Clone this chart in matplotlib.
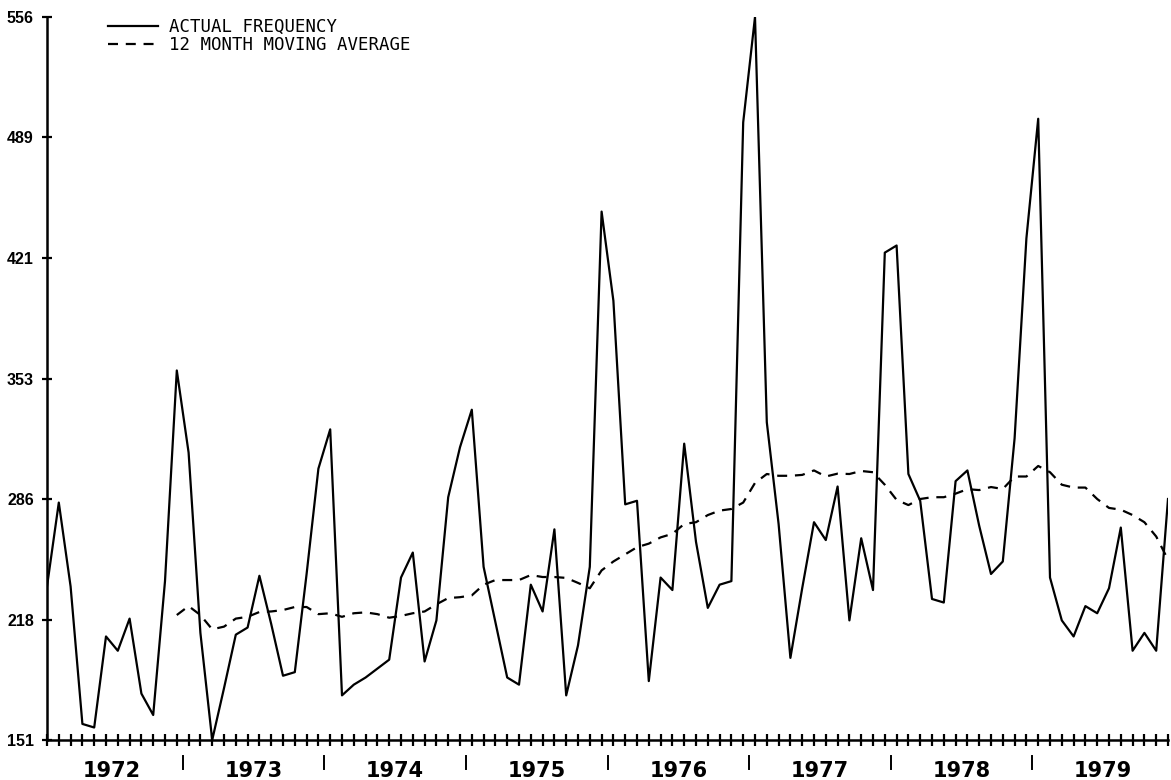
import numpy as np
import matplotlib
matplotlib.use("Agg")
import matplotlib.pyplot as plt
import matplotlib.transforms as mtransforms

# monthly frequency, Jan 1972 .. Dec 1979
actual = [237, 284, 237, 160, 158, 209, 201, 219, 177, 165, 240, 358,
          312, 211, 151, 180, 210, 214, 243, 216, 187, 189, 244, 303,
          325, 176, 182, 186, 191, 196, 242, 256, 195, 218, 287, 315,
          336, 248, 217, 186, 182, 238, 223, 269, 176, 204, 248, 447,
          397, 283, 285, 184, 242, 235, 317, 262, 225, 238, 240, 497,
          556, 329, 272, 197, 236, 273, 263, 293, 218, 264, 235, 424,
          428, 300, 285, 230, 228, 296, 302, 271, 244, 251, 320, 432,
          499, 242, 218, 209, 226, 222, 236, 270, 201, 211, 201, 286]

# 12 month moving average, starts at month 12 (Dec 1972)
ma_start = 11
moving_avg = [221, 226, 221, 213, 214.5, 219, 220, 222.7, 223, 223.8, 225.5, 225.5,
              221.5, 222, 220, 222, 222.5, 221.5, 219.5, 220.5, 222, 223, 227, 230.5,
              231, 232, 238, 240.6, 240.6, 240.6, 243.4, 242.3, 242.3, 241.8, 239, 236,
              246, 251, 255, 259, 261, 264.5, 266.5, 272, 273, 277, 279.5, 280.4,
              284, 295, 300, 299, 299, 299.5, 302, 298.6, 300.2, 300, 301.7, 301,
              294, 285.5, 282.6, 286, 287, 287, 289, 291.5, 291, 292.7, 291.6, 298.6,
              298.6, 304.5, 301, 294, 292.4, 292.4, 286, 281, 280, 277, 273, 265, 252]

years = ["1972", "1973", "1974", "1975", "1976", "1977", "1978", "1979"]
y_ticks = [151, 218, 286, 353, 421, 489, 556]

months = np.arange(len(actual))
ma_x = np.arange(ma_start, ma_start + len(moving_avg))

fig = plt.figure(figsize=(11.71, 7.80), dpi=100)
ax = fig.add_axes([47 / 1171, 40 / 780, 1121 / 1171, 723 / 780])

ax.plot(months, actual, color="black", lw=1.6, label="ACTUAL FREQUENCY")
ax.plot(ma_x, moving_avg, color="black", lw=1.6, dashes=(4.5, 3.5),
        label="12 MONTH MOVING AVERAGE")

ax.set_xlim(0, len(actual) - 1)
ax.set_ylim(y_ticks[0], y_ticks[-1])

for side in ["top", "right"]:
    ax.spines[side].set_visible(False)
for side in ["left", "bottom"]:
    ax.spines[side].set_linewidth(1.8)

ax.set_yticks(y_ticks)
ax.set_yticklabels([str(v) for v in y_ticks], fontfamily="Liberation Sans",
                   fontweight="bold", fontsize=11.5)
ax.tick_params(axis="y", direction="inout", length=7, width=1.6, pad=6)

ax.set_xticks(months)
ax.set_xticklabels([])
ax.tick_params(axis="x", direction="inout", length=8, width=1.6)

# year labels and separators below the axis
trans = mtransforms.blended_transform_factory(ax.transData, ax.transAxes)
for k, yr in enumerate(years):
    ax.text(12 * k + 5.5, -0.043, yr, transform=trans, ha="center", va="center",
            fontfamily="DejaVu Sans", fontweight="bold", fontsize=15)
    if k > 0:
        ax.plot([12 * k - 0.5, 12 * k - 0.5], [-0.022, -0.040], transform=trans,
                color="black", lw=1.4, clip_on=False)

leg = ax.legend(loc="upper left", bbox_to_anchor=(108 / 1171, 1 - 18 / 780),
                bbox_transform=fig.transFigure, frameon=False,
                prop={"family": "DejaVu Sans Mono", "size": 12.5},
                handlelength=2.9, handletextpad=0.6, labelspacing=0.0,
                borderpad=0, borderaxespad=0)

fig.savefig("out.png", dpi=100, facecolor="white")
